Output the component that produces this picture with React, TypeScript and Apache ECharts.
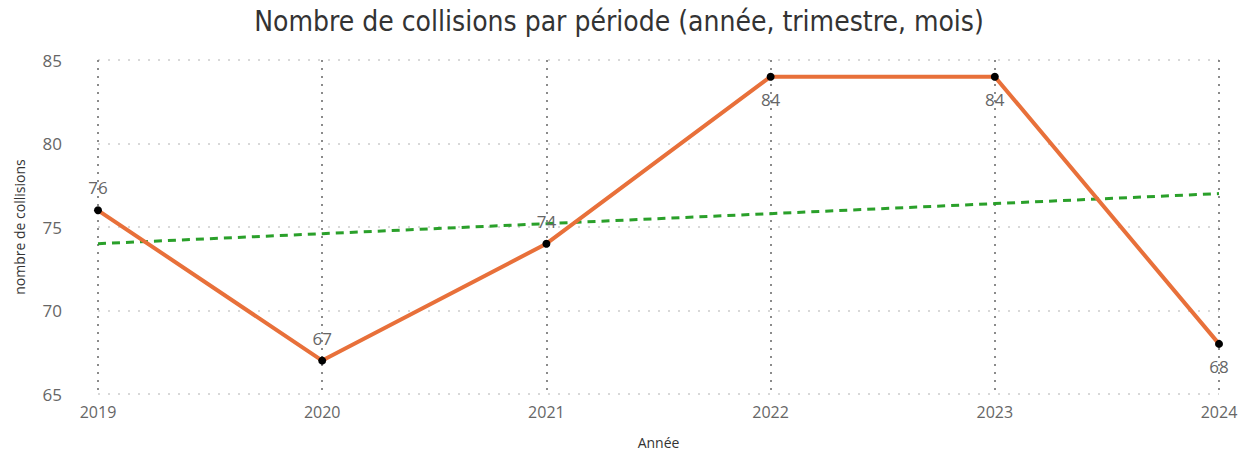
import React, { useEffect, useRef } from "react";
import * as echarts from "echarts";

const years = ["2019", "2020", "2021", "2022", "2023", "2024"];
const collisions = [76, 67, 74, 84, 84, 68];
const trend = [74, 74.6, 75.2, 75.8, 76.4, 77];
const labelAbove = [true, true, true, false, false, false];
const yTicks = { min: 65, max: 85, interval: 5 };

export default function App() {
  const ref = useRef<HTMLDivElement>(null);
  useEffect(() => {
    const chart = echarts.init(ref.current!, null, { renderer: "svg" });
    chart.setOption({
      animation: false,
      backgroundColor: "#ffffff",
      title: {
        text: "Nombre de collisions par période (année, trimestre, mois)",
        left: "center",
        top: 2,
        textStyle: { fontFamily: "DejaVu Sans Condensed", fontSize: 28, fontWeight: "normal", color: "#333" },
      },
      grid: { left: 98, right: 19, top: 60, bottom: 57, outerBoundsMode: "none", containLabel: false },
      xAxis: {
        type: "category",
        data: years,
        boundaryGap: false,
        name: "Année",
        nameLocation: "middle",
        nameGap: 41,
        nameTextStyle: { fontFamily: "Open Sans", fontSize: 14, color: "#333" },
        axisLine: { show: false },
        axisTick: { show: false },
        axisLabel: { fontFamily: "Open Sans", fontSize: 16, color: "#666", margin: 10 },
        splitLine: { show: true, lineStyle: { type: [2, 6], color: "#666", width: 1.5 } },
      },
      yAxis: {
        type: "value",
        min: yTicks.min,
        max: yTicks.max,
        interval: yTicks.interval,
        name: "nombre de collisions",
        nameLocation: "middle",
        nameGap: 72,
        nameRotate: 90,
        nameTextStyle: { fontFamily: "Open Sans", fontSize: 14, color: "#333" },
        axisLine: { show: false },
        axisTick: { show: false },
        axisLabel: { fontFamily: "Open Sans", fontSize: 17, color: "#666", margin: 36 },
        splitLine: { show: true, lineStyle: { type: [2, 8], color: "#ccc", width: 1.5 } },
      },
      series: [
        {
          type: "line",
          data: trend,
          symbol: "none",
          lineStyle: { color: "#2AA02A", width: 3, type: [8, 6] },
          z: 2,
        },
        {
          type: "line",
          data: collisions.map((v, i) => ({
            value: v,
            label: { position: labelAbove[i] ? "top" : "bottom", distance: 10 },
          })),
          symbol: "circle",
          symbolSize: 8,
          itemStyle: { color: "#000" },
          lineStyle: { color: "#E8703A", width: 4 },
          label: { show: true, fontFamily: "Open Sans", fontSize: 17, color: "#666" },
          z: 3,
        },
      ],
    });
    return () => chart.dispose();
  }, []);
  return <div ref={ref} style={{ width: 1238, height: 451, position: "fixed", left: 0, top: 0 }} />;
}
